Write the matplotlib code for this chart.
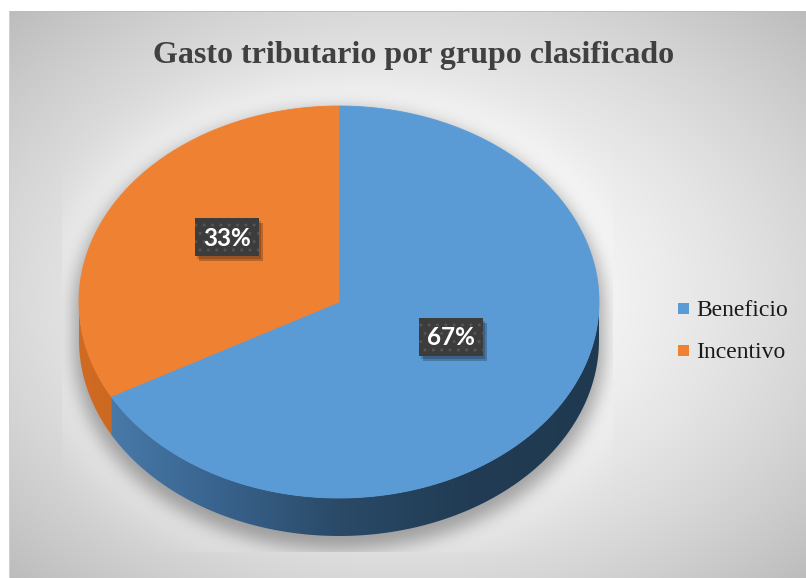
import numpy as np
import matplotlib
matplotlib.use('Agg')
import matplotlib.pyplot as plt
import matplotlib.patches as mpatches
from matplotlib.colors import LinearSegmentedColormap, to_rgb

# data
categories = ['Beneficio', 'Incentivo']
values = [67, 33]
title = 'Gasto tributario por grupo clasificado'

top_colors = ['#5b9bd5', '#ef8133']
side_colors = [['#4c80b0', '#3a6590', '#2a4a68', '#213c54', '#1f3950'],
               ['#d06b23', '#c4601b', '#b85717', '#b05314', '#a84f12']]

# geometry (pixels)
W, H = 806, 578
cx, cy, rx, ry, depth = 339, 302, 260, 196, 38

fig = plt.figure(figsize=(W / 100, H / 100), dpi=100)
ax = fig.add_axes([0, 0, 1, 1])
ax.set_xlim(0, W)
ax.set_ylim(H, 0)
ax.axis('off')

##########################################
## background + shadow
##########################################
yy, xx = np.mgrid[0:H, 0:W] + 0.5
r = np.sqrt(((xx - 408) / 398) ** 2 + ((yy - 295) / 283) ** 2)
bg = 1 - 0.15 * r ** 1.6

# silhouette of the pie, pushed down a bit, then blurred
def silhouette(dy, grow=0):
    ax_, ay_ = rx + grow, ry + grow
    top = ((xx - cx) / ax_) ** 2 + ((yy - cy - dy) / ay_) ** 2 <= 1
    bot = ((xx - cx) / ax_) ** 2 + ((yy - cy - depth - dy) / ay_) ** 2 <= 1
    mid = (np.abs(xx - cx) <= ax_) & (yy >= cy + dy) & (yy <= cy + depth + dy)
    return (top | bot | mid).astype(float)

def blur(img, sigma):
    k = np.arange(-3 * sigma, 3 * sigma + 1)
    k = np.exp(-k ** 2 / (2 * sigma ** 2))
    k /= k.sum()
    out = np.apply_along_axis(lambda m: np.convolve(m, k, mode='same'), 0, img)
    out = np.apply_along_axis(lambda m: np.convolve(m, k, mode='same'), 1, out)
    return out

shadow = blur(silhouette(9, 5), 9)
glow = blur(silhouette(0, 10), 30)
clip = (xx >= 62) & (xx <= 613) & (yy <= 552)
bg = np.where(clip, bg + 0.7 * glow * (1 - bg), bg)
bg = np.clip(bg, 0, 1)
bg = np.where(clip, bg * (1 - 0.34 * shadow), bg)

img = np.dstack([bg, bg, bg])
outside = (xx < 9) | (yy < 11)
img[outside] = 1.0
img[(yy >= 11) & (yy < 12.5) & (xx >= 9)] = to_rgb('#bdbdbd')
img[(xx >= 9) & (xx < 10) & (yy >= 11)] = to_rgb('#d0d0d0')
ax.imshow(img, extent=(0, W, H, 0), interpolation='bilinear', zorder=0)

##########################################
## pie
##########################################
def pt(theta, dy=0):
    t = np.radians(theta)
    return cx + rx * np.cos(t), cy - ry * np.sin(t) + dy

total = float(sum(values))
cum = np.concatenate([[0], np.cumsum(values)])
starts = 90 - 360 * cum[:-1] / total
ends = 90 - 360 * cum[1:] / total

# sides (front half only)
for i in range(len(values)):
    a0, a1 = ends[i], starts[i]
    for off in (-360, 0, 360):
        lo = max(a0, -180 + off)
        hi = min(a1, 0 + off)
        if hi <= lo:
            continue
        th = np.linspace(lo, hi, 200)
        x1, y1 = pt(th)
        x2, y2 = pt(th[::-1], depth)
        poly = mpatches.Polygon(np.column_stack([np.r_[x1, x2], np.r_[y1, y2]]),
                                closed=True, facecolor='none', edgecolor='none')
        ax.add_patch(poly)
        cmap = LinearSegmentedColormap.from_list('side%d' % i, side_colors[i])
        grad = np.linspace(0, 1, 256).reshape(1, -1)
        im = ax.imshow(grad, cmap=cmap, aspect='auto',
                       extent=(cx - rx, cx + rx, cy + ry + depth, cy - 5),
                       zorder=2, interpolation='bilinear')
        im.set_clip_path(poly)

# top faces
for i in range(len(values)):
    th = np.linspace(starts[i], ends[i], 300)
    x, y = pt(th)
    poly = mpatches.Polygon(np.column_stack([np.r_[cx, x], np.r_[cy, y]]),
                            closed=True, facecolor=top_colors[i],
                            edgecolor=top_colors[i], lw=0.6, zorder=3)
    ax.add_patch(poly)

# data labels
bw, bh = 64, 38
for i in range(len(values)):
    mid = (starts[i] + ends[i]) / 2
    t = np.radians(mid)
    lx = cx + 0.5 * rx * np.cos(t)
    ly = cy - 0.5 * ry * np.sin(t) - 15
    ax.add_patch(mpatches.Rectangle((lx - bw / 2 + 4, ly - bh / 2 + 5), bw, bh,
                                    facecolor='black', alpha=0.22, lw=0, zorder=4))
    ax.add_patch(mpatches.Rectangle((lx - bw / 2 + 2, ly - bh / 2 + 3), bw, bh,
                                    facecolor='black', alpha=0.18, lw=0, zorder=4))
    ax.add_patch(mpatches.Rectangle((lx - bw / 2, ly - bh / 2), bw, bh,
                                    facecolor='#3c3c3c', edgecolor='#545454',
                                    hatch='..', lw=0, zorder=5))
    ax.text(lx, ly + 1, '%d%%' % round(100 * values[i] / total), color='white',
            fontsize=17.5, fontweight='bold', family='Lato',
            ha='center', va='center', zorder=6)

##########################################
## legend + title
##########################################
for i, name in enumerate(categories):
    y0 = 303 + i * 42
    ax.add_patch(mpatches.Rectangle((678, y0), 11, 11, facecolor=top_colors[i],
                                    lw=0, zorder=5))
    ax.text(696, y0 + 13, name, fontsize=17, family='Liberation Serif',
            color='#1a1a1a', va='baseline', ha='left', zorder=5)

ax.text(414, 63, title, ha='center', va='baseline', fontsize=23,
        fontweight='bold', family='Liberation Serif', color='#404040', zorder=5)

plt.savefig('out.png', dpi=100)
